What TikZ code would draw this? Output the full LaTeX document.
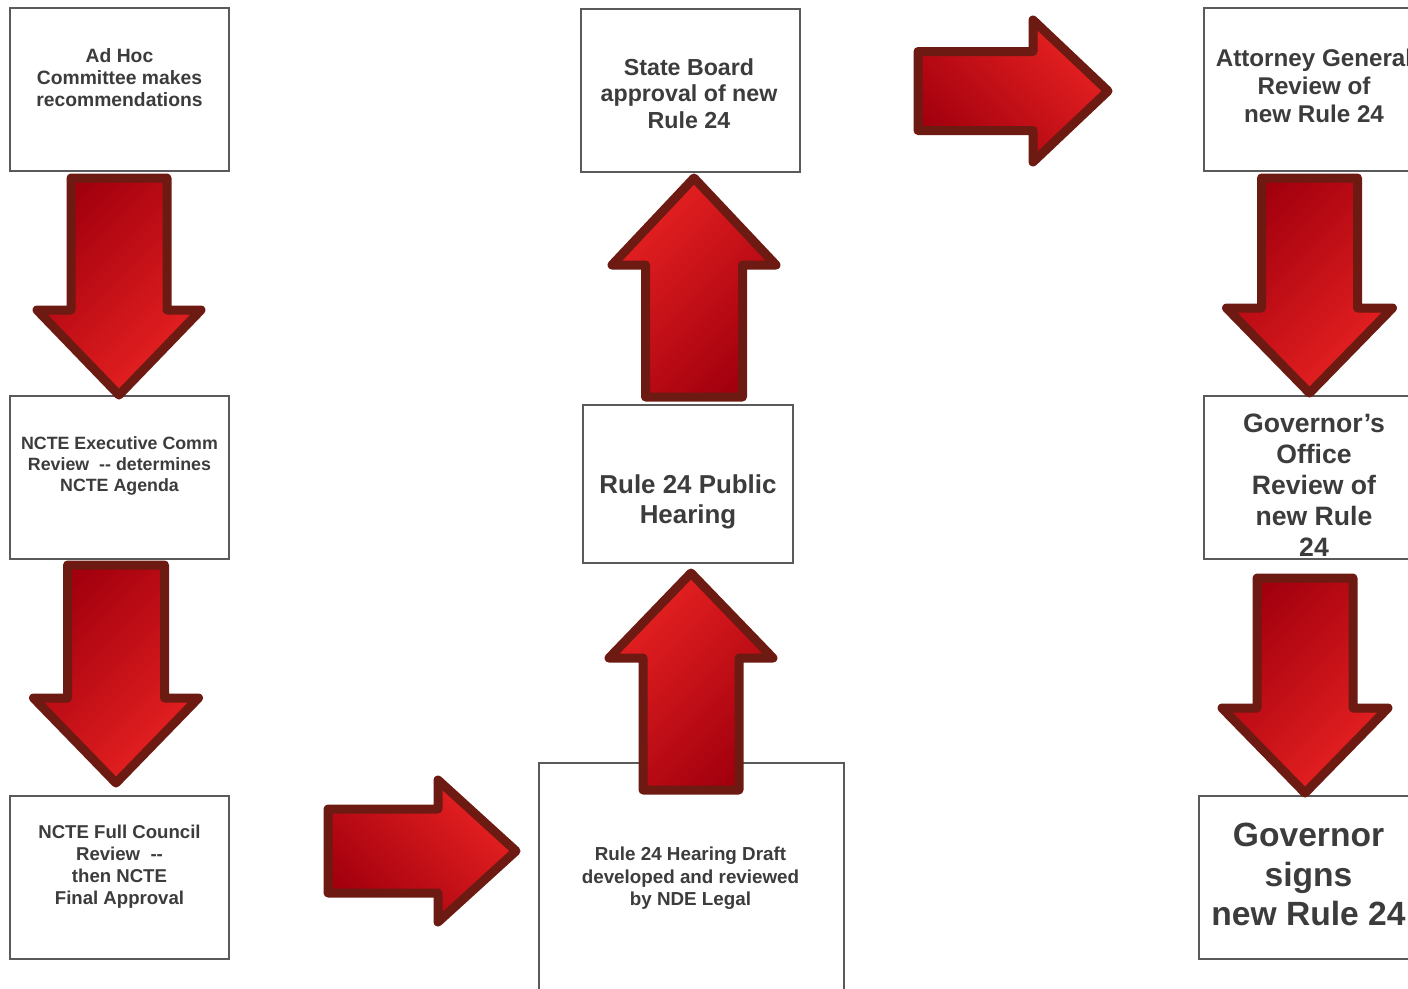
\documentclass[tikz,border=0pt]{standalone}
\usepackage{fontspec}
\setmainfont{Liberation Sans}
\usetikzlibrary{positioning}

\definecolor{boxgray}{HTML}{5A5A5A}
\definecolor{txtgray}{HTML}{3C3C3C}
\definecolor{arrowedge}{HTML}{6C1A12}
\definecolor{arrowdark}{HTML}{A3000E}
\definecolor{arrowbright}{HTML}{E82222}

\newcommand{\fsz}[2]{\fontsize{#1}{#2}\selectfont\bfseries}

% tip, rotation, length, shaft half width, head half width, head length
\newcommand{\blockarrow}[6]{%
  \begin{scope}[shift={#1}, rotate=#2]
    \pgfmathsetmacro{\shadeang}{45+#2}
    \draw[arrowbody, shading angle=\shadeang] (-#4,-#3) -- (#4,-#3) -- (#4,-#6) -- (#5,-#6)
      -- (0,0) -- (-#5,-#6) -- (-#4,-#6) -- cycle;
  \end{scope}}

\tikzset{
  box/.style={draw=boxgray, line width=1.3pt, fill=white, minimum width=219pt,
    minimum height=163pt, inner sep=0pt},
  txt/.style={text=txtgray, align=center, inner sep=0pt},
  arrowbody/.style={draw=arrowedge, line width=9pt, line join=round,
    top color=arrowdark, bottom color=arrowbright}
}

\begin{document}
\begin{tikzpicture}[x=1pt, y=-1pt]
  \useasboundingbox (0,0) rectangle (1408,988);

  % left column
  \node[box] (adhoc) at (119.5,89.5) {};
  \node[txt, font=\fsz{19.3}{22}] (adhoc-txt) at (119.5,78) {Ad Hoc\\Committee makes\\recommendations};

  \node[box] (execcomm) at (119.5,477.5) {};
  \node[txt, font=\fsz{17.8}{21}] (execcomm-txt) at (119.5,466) {NCTE Executive Comm\\Review~~-{}- determines\\NCTE Agenda};

  \node[box] (council) at (119.5,877.5) {};
  \node[txt, font=\fsz{18.6}{22}] (council-txt) at (119.5,867) {NCTE Full Council\\Review~~-{}-\\then NCTE\\Final Approval};

  % middle column
  \node[box, minimum width=305pt, minimum height=250pt] (draft) at (691.5,888) {};
  \node[txt, font=\fsz{18.8}{22.5}] (draft-txt) at (690.5,878.5) {Rule 24 Hearing Draft\\developed and reviewed\\by NDE Legal};

  \node[box, minimum width=210pt, minimum height=158pt] (hearing) at (688,484) {};
  \node[txt, font=\fsz{25.9}{30}] (hearing-txt) at (688,502) {Rule 24 Public\\Hearing};

  \node[box] (board) at (690.5,90.5) {};
  \node[txt, font=\fsz{23.2}{26.5}] (board-txt) at (689,93.5) {State Board\\approval of new\\Rule 24};

  % right column
  \node[box] (attorney) at (1313.5,89.5) {};
  \node[txt, font=\fsz{24.2}{28}] (attorney-txt) at (1314,86) {Attorney General\\Review of\\new Rule 24};

  \node[box] (govoffice) at (1313.5,477.5) {};
  \node[txt, font=\fsz{26.6}{31}] (govoffice-txt) at (1314,485) {Governor’s\\Office\\Review of\\new Rule\\24};

  \node[box] (govsigns) at (1308.5,877.5) {};
  \node[txt, font=\fsz{33.6}{39.5}] (govsigns-txt) at (1308.5,874.5) {Governor\\signs\\new Rule 24};

  % block arrows
  \blockarrow{(119,395)}{0}{217}{48}{82}{85}
  \blockarrow{(116,783)}{0}{218}{48.5}{82.5}{85}
  \blockarrow{(516,851)}{90}{188}{42}{71}{78}
  \blockarrow{(691,573)}{180}{217}{48}{82}{85}
  \blockarrow{(694,178)}{180}{219}{48.5}{82}{87}
  \blockarrow{(1108,91)}{90}{190}{39.5}{71}{75}
  \blockarrow{(1309.5,393)}{0}{215}{48}{83}{85}
  \blockarrow{(1305,793)}{0}{215}{48}{83}{85}
\end{tikzpicture}
\end{document}
